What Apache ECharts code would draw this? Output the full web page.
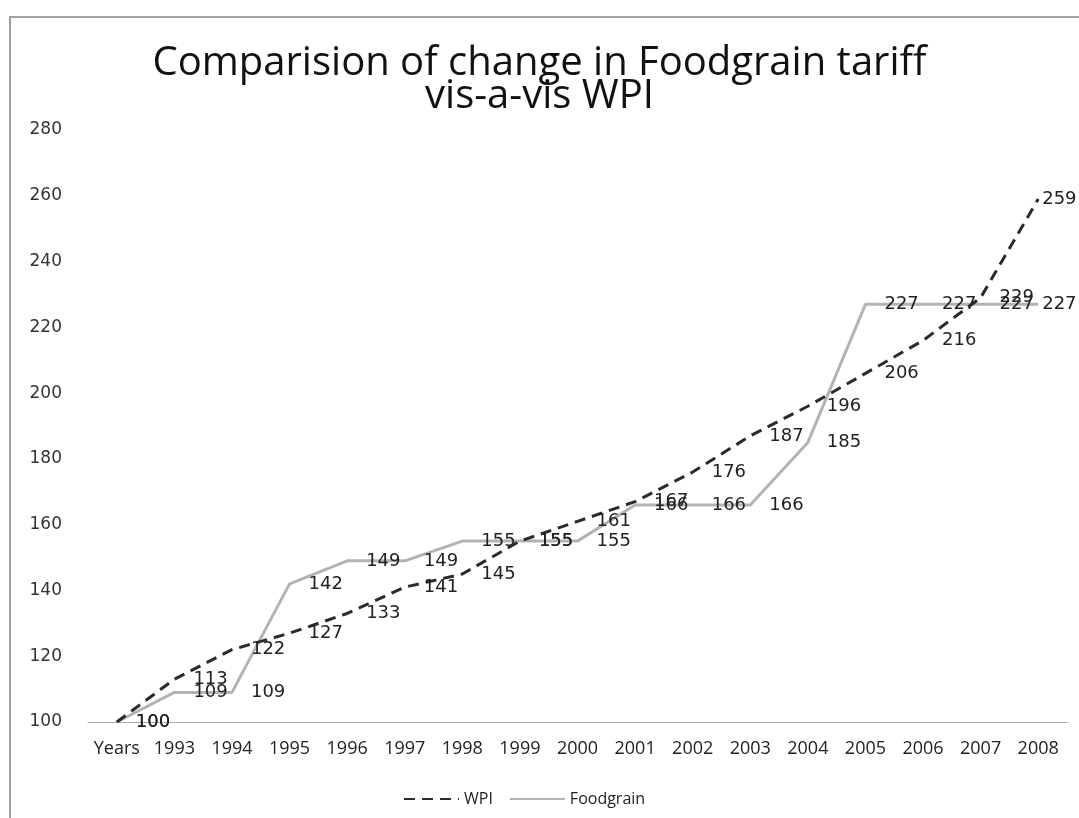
<!DOCTYPE html>
<html>
<head>
<meta charset="utf-8">
<script src="https://cdn.jsdelivr.net/npm/echarts@6/dist/echarts.min.js"></script>
<style>html,body{margin:0;padding:0;background:#fff;}#c{width:1079px;height:818px;}</style>
</head>
<body>
<div id="c"></div>
<script>
var categories = ['Years','1993','1994','1995','1996','1997','1998','1999','2000','2001','2002','2003','2004','2005','2006','2007','2008'];
var wpi = [100,113,122,127,133,141,145,155,161,167,176,187,196,206,216,229,259];
var foodgrain = [100,109,109,142,149,149,155,155,155,166,166,166,185,227,227,227,227];
var yTicks = {min:100, max:280, interval:20};

var chart = echarts.init(document.getElementById('c'));
function lbl(){ return {show:true, position:'right', distance:18, color:'#222', fontFamily:'DejaVu Sans', fontSize:18}; }
// last label sits closer to its point so it stays inside the frame
function withEdgeLabel(arr){
  return arr.map(function(v, i){ return i === arr.length - 1 ? {value:v, label:{distance:3}} : v; });
}
chart.setOption({
  animation:false,
  backgroundColor:'#fff',
  graphic:[{type:'rect', shape:{x:10,y:17,width:1200,height:1000}, style:{fill:'none', stroke:'#a0a0a0', lineWidth:2}, z:-1}],
  title:{
    text:'Comparision of change in Foodgrain tariff\nvis-a-vis WPI',
    left:'center', top:47, padding:[0,0,0,52],
    textStyle:{fontFamily:'Open Sans', fontSize:40, fontWeight:'normal', color:'#111', lineHeight:33}
  },
  legend:{
    bottom:6, left:398, itemWidth:55, itemHeight:12, itemGap:16,
    textStyle:{fontFamily:'Open Sans', fontSize:16, color:'#222'},
    data:['WPI','Foodgrain']
  },
  grid:{left:88, right:12, top:130, bottom:96},
  xAxis:{
    type:'category', data:categories, boundaryGap:true,
    axisLine:{show:true, lineStyle:{color:'#999', width:1, type:'dotted'}},
    axisTick:{show:false},
    axisLabel:{interval:0, margin:18, fontFamily:'Open Sans', fontSize:18, color:'#222'}
  },
  yAxis:{
    type:'value', min:yTicks.min, max:yTicks.max, interval:yTicks.interval,
    axisLine:{show:false}, axisTick:{show:false}, splitLine:{show:false},
    axisLabel:{margin:26, fontFamily:'DejaVu Sans', fontSize:17, color:'#333'}
  },
  series:[
    {name:'WPI', type:'line', data:withEdgeLabel(wpi), symbol:'circle', symbolSize:2, showSymbol:true, z:3,
     lineStyle:{color:'#2b2b2b', width:3, type:[11,7]}, itemStyle:{color:'rgba(0,0,0,0)', borderWidth:0},
     label:lbl()},
    {name:'Foodgrain', type:'line', data:withEdgeLabel(foodgrain), symbol:'circle', symbolSize:2, showSymbol:true, z:2,
     lineStyle:{color:'#b3b3b3', width:3}, itemStyle:{color:'rgba(0,0,0,0)', borderWidth:0},
     label:lbl()}
  ]
});
</script>
</body>
</html>
